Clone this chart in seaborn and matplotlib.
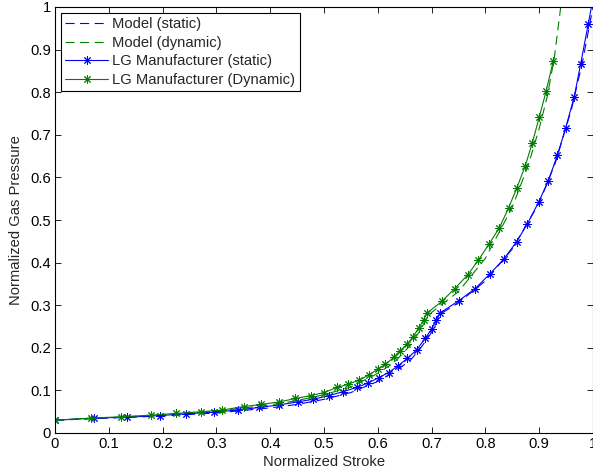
import numpy as np
import pandas as pd
import matplotlib
matplotlib.use("Agg")
import matplotlib.pyplot as plt
import seaborn as sns

# Model curves (normalized stroke -> normalized gas pressure)
model_static_x = [0, 0.1, 0.2, 0.3, 0.4, 0.45, 0.5, 0.55, 0.6, 0.63, 0.66, 0.68, 0.7,
                  0.71, 0.72, 0.75, 0.8, 0.85, 0.9, 0.93, 0.96, 0.98, 1.0]
model_static_y = [0.03, 0.035, 0.04, 0.047, 0.059, 0.067, 0.079, 0.095, 0.121, 0.143, 0.17,
                  0.2, 0.236, 0.262, 0.282, 0.306, 0.357, 0.432, 0.54, 0.634, 0.76, 0.868, 1.0]

model_dynamic_x = [0, 0.1, 0.2, 0.3, 0.4, 0.45, 0.5, 0.55, 0.6, 0.63, 0.66, 0.68, 0.69,
                   0.7, 0.75, 0.8, 0.85, 0.88, 0.9, 0.915, 0.928, 0.94]
model_dynamic_y = [0.03, 0.036, 0.042, 0.051, 0.066, 0.076, 0.09, 0.108, 0.14, 0.165, 0.205,
                   0.243, 0.268, 0.283, 0.332, 0.41, 0.53, 0.63, 0.715, 0.79, 0.88, 1.0]

# Manufacturer data
lg_static_x = [0, 0.073, 0.133, 0.195, 0.244, 0.295, 0.34, 0.38, 0.417, 0.451, 0.479, 0.51,
               0.535, 0.561, 0.581, 0.602, 0.62, 0.638, 0.655, 0.672, 0.688, 0.7, 0.709,
               0.716, 0.75, 0.781, 0.808, 0.834, 0.858, 0.878, 0.899, 0.917, 0.934, 0.949,
               0.965, 0.977, 0.991, 1.0]
lg_static_y = [0.03, 0.035, 0.037, 0.041, 0.045, 0.049, 0.054, 0.06, 0.066, 0.073, 0.079,
               0.088, 0.097, 0.107, 0.117, 0.13, 0.142, 0.158, 0.175, 0.195, 0.222, 0.244,
               0.266, 0.282, 0.31, 0.339, 0.373, 0.408, 0.449, 0.491, 0.542, 0.592, 0.653,
               0.715, 0.789, 0.866, 0.959, 1.02]

lg_dynamic_x = [0, 0.066, 0.122, 0.178, 0.225, 0.272, 0.311, 0.351, 0.383, 0.417, 0.447,
                0.476, 0.5, 0.524, 0.544, 0.565, 0.583, 0.6, 0.614, 0.63, 0.641, 0.654,
                0.665, 0.676, 0.685, 0.691, 0.719, 0.743, 0.767, 0.787, 0.807, 0.826,
                0.843, 0.858, 0.874, 0.887, 0.9, 0.913, 0.926]
lg_dynamic_y = [0.03, 0.035, 0.038, 0.042, 0.046, 0.05, 0.054, 0.062, 0.067, 0.073, 0.081,
                0.088, 0.095, 0.107, 0.114, 0.124, 0.136, 0.15, 0.161, 0.178, 0.193, 0.208,
                0.225, 0.246, 0.265, 0.281, 0.309, 0.339, 0.371, 0.406, 0.444, 0.482,
                0.528, 0.574, 0.627, 0.68, 0.741, 0.803, 0.873]

x_ticks = [0, 0.1, 0.2, 0.3, 0.4, 0.5, 0.6, 0.7, 0.8, 0.9, 1]
y_ticks = [0, 0.1, 0.2, 0.3, 0.4, 0.5, 0.6, 0.7, 0.8, 0.9, 1]

FS = 10.6

sns.set_style("ticks")
plt.rcParams["font.family"] = ["Liberation Sans", "DejaVu Sans"]
plt.rcParams["font.size"] = FS
plt.rcParams["xtick.direction"] = "in"
plt.rcParams["ytick.direction"] = "in"
plt.rcParams["lines.scale_dashes"] = False
plt.rcParams["lines.dashed_pattern"] = [6.5, 4.0]

fig = plt.figure(figsize=(5.93, 4.71), dpi=100)
ax = fig.add_axes([55 / 593, 38 / 471, 538 / 593, 426 / 471])

BLUE = "#0000ff"
GREEN = "#008000"
star = (8, 2, 0)

series = [
    ("Model (static)", model_static_x, model_static_y, BLUE, "--", None),
    ("Model (dynamic)", model_dynamic_x, model_dynamic_y, GREEN, "--", None),
    ("LG Manufacturer (static)", lg_static_x, lg_static_y, BLUE, "-", star),
    ("LG Manufacturer (Dynamic)", lg_dynamic_x, lg_dynamic_y, GREEN, "-", star),
]

for label, xs, ys, color, ls, mk in series:
    df = pd.DataFrame({"stroke": xs, "pressure": ys})
    kw = dict(color=color, linestyle=ls, linewidth=0.8, label=label)
    if mk is not None:
        kw.update(marker=mk, markersize=6, markeredgewidth=0.7,
                  markeredgecolor=color)
    sns.lineplot(data=df, x="stroke", y="pressure", sort=False, estimator=None,
                 ax=ax, **kw)

ax.set_xlim(0, 1)
ax.set_ylim(0, 1)
ax.set_xticks(x_ticks)
ax.set_yticks(y_ticks)
ax.set_xticklabels([f"{t:g}" for t in x_ticks])
ax.set_yticklabels([f"{t:g}" for t in y_ticks])
ax.tick_params(axis="both", which="both", direction="in", top=True, right=True,
               length=4, width=0.6, labelsize=FS, pad=3, colors="black")
for s in ax.spines.values():
    s.set_visible(True)
    s.set_linewidth(0.8)
    s.set_color("black")

ax.set_xlabel("Normalized Stroke", fontsize=FS, labelpad=3)
ax.set_ylabel("Normalized Gas Pressure", fontsize=FS, labelpad=5)

leg = ax.legend(loc="upper left", bbox_to_anchor=(6 / 538, 1 - 6 / 426),
                borderaxespad=0, fancybox=False, framealpha=1, edgecolor="black",
                fontsize=FS, handlelength=2.9, handletextpad=0.27, labelspacing=0.3,
                borderpad=0.3)
leg.get_frame().set_linewidth(0.8)

fig.savefig("out.png", dpi=100)
